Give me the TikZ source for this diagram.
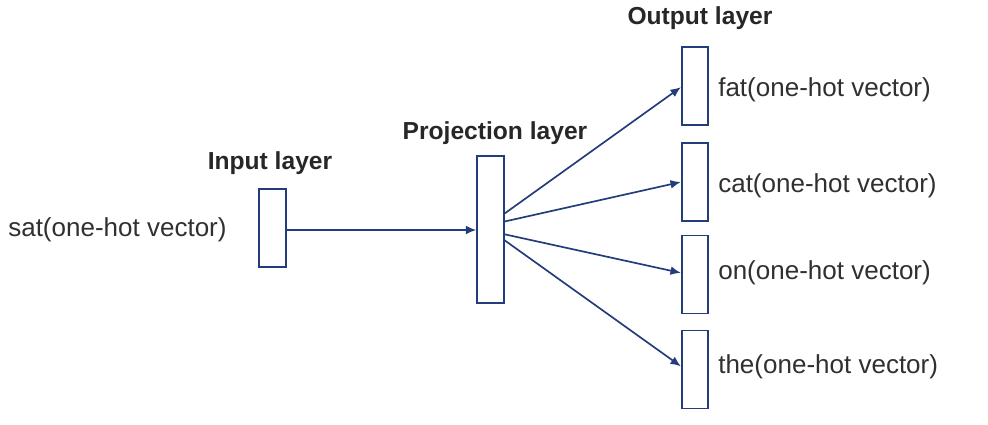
\documentclass[tikz,border=0pt]{standalone}
\usepackage{fontspec}
\setmainfont{Liberation Sans}
\usetikzlibrary{arrows.meta,positioning}
\definecolor{netNavy}{HTML}{233D7B}
\definecolor{netText}{HTML}{303030}

\begin{document}
\begin{tikzpicture}[x=0.025cm,y=-0.025cm,
    font=\fontsize{18.5}{21}\selectfont,
    layerbox/.style={draw=netNavy,fill=white,line width=1.3pt,inner sep=0pt,
                     minimum width=0.66cm,minimum height=1.95cm},
    title/.style={font=\fontsize{17.5}{20}\selectfont\bfseries,text=netText!80!black,inner sep=0pt},
    vec/.style={text=netText,inner sep=0pt,anchor=west},
    arr/.style={-{Latex[length=2.6mm,width=2.2mm]},netNavy,line width=1.2pt}]
  \useasboundingbox (0,0) rectangle (988,424);
  % layers
  \node[layerbox] (inp) at (272.5,228) {};
  \node[layerbox,minimum height=3.675cm] (proj) at (490.5,229.5) {};
  \node[layerbox] (out1) at (695,86) {};
  \node[layerbox] (out2) at (695,182) {};
  \node[layerbox] (out3) at (695,274.5) {};
  \node[layerbox] (out4) at (695,369.5) {};
  % titles
  \node[title] (tinp) at (270,163) {Input layer};
  \node[title] (tproj) at (495,133) {Projection layer};
  \node[title] (tout) at (700,18) {Output layer};
  % vector labels
  \node[vec] (win) at (8,230) {sat(one-hot vector)};
  \node[vec] (w1) at (718,90) {fat(one-hot vector)};
  \node[vec] (w2) at (718,186) {cat(one-hot vector)};
  \node[vec] (w3) at (718,273) {on(one-hot vector)};
  \node[vec] (w4) at (718,367) {the(one-hot vector)};
  % connections
  \draw[arr] ([yshift=-0.05cm]inp.east) -- ([yshift=-0.05cm]inp.east -| proj.west);
  \draw[arr] ([yshift=0.4cm]proj.east) -- ([yshift=-0.03cm]out1.west);
  \draw[arr] ([yshift=0.2cm]proj.east) -- (out2.west);
  \draw[arr] ([yshift=-0.12cm]proj.east) -- ([yshift=0.04cm]out3.west);
  \draw[arr] ([yshift=-0.27cm]proj.east) -- ([yshift=0.08cm]out4.west);
\end{tikzpicture}
\end{document}
